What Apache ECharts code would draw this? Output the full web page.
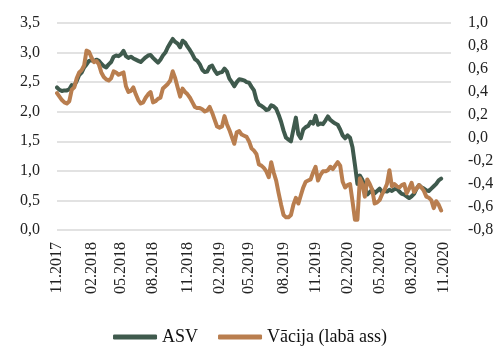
<!DOCTYPE html>
<html>
<head>
<meta charset="utf-8">
<script src="https://cdn.jsdelivr.net/npm/echarts@6/dist/echarts.min.js"></script>
<style>html,body{margin:0;padding:0;background:#fff}#c{width:500px;height:361px}</style>
</head>
<body>
<div id="c"></div>
<script>
// Weekly observations starting 2017-11-01
var startDate = '2017-11-01';
var nCategories = 161;
var seriesNames = ['ASV', 'Vācija (labā ass)'];
var asv = [
2.41,2.37,2.35,2.36,2.36,2.38,2.45,2.44,2.52,2.62,
2.66,2.75,2.80,2.86,2.87,2.85,2.88,2.86,2.81,2.77,
2.75,2.80,2.84,2.93,2.95,2.94,2.97,3.03,2.94,2.91,
2.93,2.90,2.88,2.86,2.84,2.88,2.92,2.95,2.96,2.91,
2.87,2.83,2.88,2.95,3.00,3.09,3.16,3.23,3.18,3.15,
3.09,3.20,3.17,3.10,3.04,2.97,2.89,2.86,2.80,2.71,
2.67,2.68,2.76,2.78,2.70,2.64,2.66,2.67,2.73,2.68,
2.56,2.50,2.43,2.50,2.55,2.54,2.53,2.50,2.49,2.42,
2.36,2.20,2.12,2.10,2.07,2.03,2.04,2.11,2.09,2.05,
1.95,1.83,1.68,1.56,1.53,1.50,1.70,1.90,1.62,1.55,
1.70,1.74,1.76,1.83,1.80,1.93,1.78,1.80,1.79,1.85,
1.92,1.86,1.83,1.80,1.78,1.70,1.60,1.55,1.60,1.56,
1.40,1.10,0.78,0.92,0.85,0.73,0.60,0.64,0.68,0.62,
0.66,0.70,0.64,0.66,0.65,0.68,0.66,0.69,0.70,0.65,
0.61,0.60,0.57,0.54,0.57,0.61,0.70,0.76,0.72,0.70,
0.67,0.66,0.70,0.74,0.78,0.84,0.87
];
var vacija = [
0.39,0.36,0.33,0.31,0.30,0.32,0.42,0.44,0.52,0.57,
0.59,0.63,0.76,0.75,0.70,0.66,0.67,0.64,0.57,0.53,
0.51,0.50,0.52,0.58,0.57,0.55,0.56,0.57,0.45,0.40,
0.41,0.44,0.38,0.33,0.30,0.31,0.35,0.38,0.40,0.31,
0.32,0.34,0.35,0.43,0.45,0.47,0.50,0.58,0.52,0.44,
0.36,0.43,0.40,0.38,0.35,0.31,0.27,0.26,0.26,0.25,
0.23,0.24,0.27,0.22,0.16,0.10,0.09,0.10,0.19,0.12,
0.07,0.01,-0.05,0.05,0.06,0.03,0.02,0.01,-0.03,-0.09,
-0.11,-0.14,-0.23,-0.24,-0.26,-0.29,-0.34,-0.21,-0.30,-0.37,
-0.48,-0.58,-0.67,-0.69,-0.69,-0.67,-0.58,-0.52,-0.57,-0.50,
-0.43,-0.38,-0.37,-0.36,-0.30,-0.25,-0.37,-0.32,-0.29,-0.29,
-0.28,-0.25,-0.27,-0.24,-0.21,-0.24,-0.38,-0.43,-0.41,-0.40,
-0.55,-0.71,-0.71,-0.35,-0.40,-0.51,-0.36,-0.40,-0.45,-0.57,
-0.56,-0.54,-0.49,-0.45,-0.40,-0.28,-0.42,-0.40,-0.42,-0.43,
-0.41,-0.40,-0.48,-0.44,-0.39,-0.47,-0.44,-0.41,-0.43,-0.46,
-0.51,-0.52,-0.54,-0.61,-0.55,-0.58,-0.63
];
var labelMonths = [11, 2, 5, 8];
var leftTicks = {min: 0, max: 3.5, interval: 0.5};
var rightTicks = {min: -0.8, max: 1.0, interval: 0.2};

// build weekly categories
var categories = [], months = [];
var d0 = new Date(startDate + 'T00:00:00Z');
for (var i = 0; i < nCategories; i++) {
  var d = new Date(d0.getTime() + i * 7 * 86400000);
  var m = d.getUTCMonth() + 1;
  months.push(m);
  categories.push((m < 10 ? '0' : '') + m + '.' + d.getUTCFullYear());
}
function showLabel(idx) {
  if (idx === 0) return true;
  return months[idx] !== months[idx - 1] && labelMonths.indexOf(months[idx]) >= 0;
}
var font = 'Liberation Serif';
var comma = function (v) { return v.toFixed(1).replace('.', ','); };

var chart = echarts.init(document.getElementById('c'));
chart.setOption({
  animation: false,
  grid: {left: 57, right: 49, top: 23, bottom: 131},
  legend: {
    bottom: 10, left: 'center',
    icon: 'roundRect', itemWidth: 44, itemHeight: 5, itemGap: 20,
    textStyle: {fontFamily: font, fontSize: 18, color: '#111'},
    data: seriesNames
  },
  xAxis: {
    type: 'category', data: categories, boundaryGap: false,
    axisLine: {show: false}, axisTick: {show: false},
    axisLabel: {
      interval: function (idx) { return showLabel(idx); },
      rotate: 90, margin: 12,
      fontFamily: font, fontSize: 16, color: '#222'
    },
    splitLine: {show: false}
  },
  yAxis: [{
    type: 'value', min: leftTicks.min, max: leftTicks.max, interval: leftTicks.interval,
    axisLine: {show: false}, axisTick: {show: false},
    axisLabel: {formatter: comma, margin: 17, fontFamily: font, fontSize: 16, color: '#222'},
    splitLine: {lineStyle: {color: '#d9d9d9', width: 1.5}}
  }, {
    type: 'value', min: rightTicks.min, max: rightTicks.max, interval: rightTicks.interval,
    axisLine: {show: false}, axisTick: {show: false},
    axisLabel: {formatter: comma, margin: 17, fontFamily: font, fontSize: 16, color: '#222'},
    splitLine: {show: false}
  }],
  series: [{
    name: seriesNames[0], type: 'line', data: asv, yAxisIndex: 0,
    showSymbol: false, symbol: 'none',
    lineStyle: {color: '#3f5a4d', width: 4, cap: 'round', join: 'round'},
    itemStyle: {color: '#3f5a4d'}
  }, {
    name: seriesNames[1], type: 'line', data: vacija, yAxisIndex: 1,
    showSymbol: false, symbol: 'none',
    lineStyle: {color: '#b97e4f', width: 4, cap: 'round', join: 'round'},
    itemStyle: {color: '#b97e4f'}
  }]
});
</script>
</body>
</html>
